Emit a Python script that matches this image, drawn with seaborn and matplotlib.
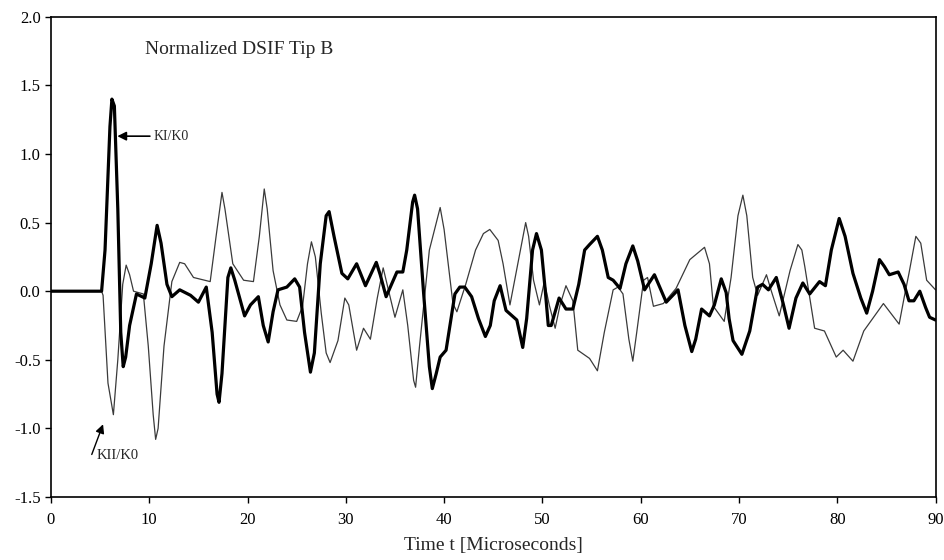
import matplotlib
matplotlib.use("Agg")
import matplotlib.pyplot as plt
import seaborn as sns
import pandas as pd

# KI/K0 (thick line)
ki_t = [0, 5.15, 5.5, 6.0, 6.2, 6.45, 6.8, 7.1, 7.35, 7.6, 8.0, 8.7, 9.55, 10.2, 10.8, 11.2, 11.8, 12.3,
        13.1, 14.2, 15.0, 15.8, 16.4, 16.9, 17.1, 17.4, 18.0, 18.3, 18.7, 19.7, 20.3, 21.1, 21.6, 22.1,
        22.6, 23.1, 24.0, 24.8, 25.3, 25.8, 26.4, 26.8, 27.4, 28.0, 28.3, 28.8, 29.6, 30.2, 31.1, 32.0,
        33.1, 33.5, 34.1, 35.2, 35.8, 36.2, 36.8, 37.0, 37.3, 37.9, 38.5, 38.8, 39.2, 39.6, 40.2, 40.6,
        41.1, 41.6, 42.1, 42.8, 43.5, 44.2, 44.7, 45.1, 45.7, 46.3, 47.4, 48.0, 48.4, 49.0, 49.4, 49.9,
        50.3, 50.6, 50.9, 51.7, 52.4, 53.1, 53.7, 54.3, 54.8, 55.6, 56.1, 56.7, 57.2, 57.9, 58.5, 59.2,
        59.7, 60.4, 61.4, 62.6, 63.8, 64.5, 65.2, 65.6, 66.2, 67.0, 67.5, 68.2, 68.7, 69.0, 69.4, 70.3,
        71.1, 71.9, 72.4, 73.0, 73.8, 74.5, 75.1, 75.8, 76.5, 77.2, 78.2, 78.8, 79.4, 80.2, 80.8, 81.6,
        82.4, 83.0, 83.6, 84.3, 84.8, 85.3, 86.2, 86.8, 87.3, 87.8, 88.4, 89.0, 89.4, 90.0]
ki_v = [0, 0, 0.3, 1.2, 1.40, 1.35, 0.6, -0.3, -0.55, -0.48, -0.25, -0.02, -0.05, 0.2, 0.48, 0.35, 0.05, -0.04,
        0.01, -0.03, -0.08, 0.03, -0.3, -0.75, -0.81, -0.6, 0.1, 0.17, 0.08, -0.18, -0.1, -0.04, -0.25, -0.37,
        -0.15, 0.01, 0.03, 0.09, 0.03, -0.3, -0.59, -0.45, 0.2, 0.55, 0.58, 0.40, 0.13, 0.09, 0.20, 0.04,
        0.21, 0.12, -0.04, 0.14, 0.14, 0.30, 0.65, 0.70, 0.6, 0.0, -0.55, -0.71, -0.6, -0.48, -0.43, -0.25,
        -0.02, 0.03, 0.03, -0.04, -0.2, -0.33, -0.25, -0.07, 0.04, -0.14, -0.21, -0.41, -0.2, 0.3, 0.42, 0.30,
        0.0, -0.25, -0.25, -0.05, -0.13, -0.13, 0.05, 0.30, 0.34, 0.40, 0.3, 0.10, 0.08, 0.02, 0.2, 0.33,
        0.22, 0.01, 0.12, -0.08, 0.01, -0.25, -0.44, -0.35, -0.13, -0.18, -0.10, 0.09, -0.01, -0.2, -0.36, -0.46,
        -0.29, 0.03, 0.05, 0.01, 0.10, -0.09, -0.27, -0.05, 0.06, -0.02, 0.07, 0.04, 0.3, 0.53, 0.4, 0.13,
        -0.05, -0.16, 0.0, 0.23, 0.18, 0.12, 0.14, 0.05, -0.07, -0.07, 0.00, -0.12, -0.19, -0.21]

# KII/K0 (thin line)
kii_t = [0, 5.15, 5.3, 5.8, 6.35, 6.8, 7.3, 7.65, 8.0, 8.4, 9.4, 9.9, 10.4, 10.65, 10.9, 11.5, 12.3, 13.1,
         13.6, 14.5, 16.2, 16.8, 17.4, 17.7, 18.5, 19.6, 20.6, 21.2, 21.7, 22.0, 22.6, 23.3, 24.0, 25.0,
         25.6, 26.1, 26.5, 26.9, 27.5, 28.0, 28.4, 29.2, 29.9, 30.3, 31.1, 31.8, 32.5, 33.2, 33.8, 34.1,
         35.0, 35.8, 36.3, 36.9, 37.1, 37.5, 38.5, 39.6, 40.0, 40.9, 41.3, 42.2, 43.2, 44.0, 44.65, 45.5,
         46.0, 46.7, 47.5, 48.3, 48.6, 49.1, 49.7, 50.2, 50.7, 51.3, 51.8, 52.4, 53.1, 53.6, 54.8, 55.6,
         56.3, 57.2, 57.7, 58.2, 58.8, 59.2, 59.6, 60.3, 60.7, 61.3, 62.3, 63.6, 65.0, 66.5, 67.0, 67.4,
         68.5, 69.2, 69.9, 70.4, 70.8, 71.4, 71.9, 72.8, 73.3, 74.1, 75.2, 76.0, 76.4, 76.7, 77.7, 78.7,
         79.9, 80.6, 81.6, 82.7, 84.7, 86.3, 86.8, 87.3, 88.0, 88.5, 89.1, 90.0]
kii_v = [0, 0, -0.03, -0.67, -0.90, -0.5, 0.05, 0.19, 0.12, 0.0, -0.02, -0.4, -0.9, -1.08, -1.0, -0.4, 0.07, 0.21,
         0.2, 0.10, 0.07, 0.4, 0.72, 0.6, 0.20, 0.08, 0.07, 0.4, 0.745, 0.6, 0.15, -0.10, -0.21, -0.22,
         -0.11, 0.2, 0.36, 0.25, -0.16, -0.45, -0.52, -0.36, -0.05, -0.1, -0.43, -0.27, -0.35, -0.05, 0.17, 0.08,
         -0.19, 0.01, -0.25, -0.65, -0.70, -0.4, 0.3, 0.61, 0.45, -0.09, -0.15, 0.05, 0.30, 0.42, 0.45, 0.37,
         0.2, -0.10, 0.2, 0.50, 0.4, 0.08, -0.10, 0.07, -0.1, -0.27, -0.1, 0.04, -0.07, -0.43, -0.49, -0.58,
         -0.3, 0.01, 0.03, -0.02, -0.35, -0.51, -0.3, 0.08, 0.10, -0.11, -0.09, 0.02, 0.23, 0.32, 0.2, -0.11,
         -0.22, 0.1, 0.55, 0.70, 0.55, 0.1, -0.03, 0.12, 0.0, -0.18, 0.15, 0.34, 0.3, 0.18, -0.27, -0.29,
         -0.48, -0.43, -0.51, -0.29, -0.09, -0.24, -0.05, 0.13, 0.40, 0.35, 0.08, 0.01]

x_ticks = [0, 10, 20, 30, 40, 50, 60, 70, 80, 90]
y_ticks = [-1.5, -1.0, -0.5, 0.0, 0.5, 1.0, 1.5, 2.0]

sns.set_style("ticks")
plt.rcParams['font.family'] = ['Liberation Serif', 'DejaVu Serif']

fig = plt.figure(figsize=(9.44, 5.6), dpi=100)
ax = fig.add_axes([0.054, 0.1125, 0.937, 0.8575])

df_ki = pd.DataFrame({"t": ki_t, "v": ki_v})
df_kii = pd.DataFrame({"t": kii_t, "v": kii_v})
sns.lineplot(data=df_kii, x="t", y="v", ax=ax, color="#3a3a3a", linewidth=0.9,
             sort=False, estimator=None, solid_joinstyle="round")
sns.lineplot(data=df_ki, x="t", y="v", ax=ax, color="black", linewidth=2.3,
             sort=False, estimator=None, solid_joinstyle="round", solid_capstyle="round")

ax.set_xlim(0, 90)
ax.set_ylim(-1.5, 2.0)
ax.set_xticks(x_ticks)
ax.set_xticklabels([str(v) for v in x_ticks])
ax.set_yticks(y_ticks)
ax.set_yticklabels([f"{v:.1f}" for v in y_ticks])
ax.tick_params(direction="out", length=4, width=1, labelsize=12, colors="black")
ax.tick_params(axis="x", pad=7)
for s in ax.spines.values():
    s.set_visible(True)
    s.set_linewidth(1.2)
    s.set_color("black")
ax.set_xlabel("Time t [Microseconds]", fontsize=14, labelpad=6)
ax.set_ylabel("")

ax.text(9.6, 1.76, "Normalized DSIF Tip B", fontsize=14, va="center", ha="left")

ax.annotate("KI/K0", xy=(6.75, 1.13), xytext=(10.4, 1.13), fontsize=10,
            va="center", ha="left",
            arrowprops=dict(arrowstyle="-|>", color="black", lw=1.2,
                            mutation_scale=13, shrinkA=0, shrinkB=0))
ax.annotate("", xy=(5.3, -0.97), xytext=(4.15, -1.19),
            arrowprops=dict(arrowstyle="-|>", color="black", lw=1.0,
                            mutation_scale=13, shrinkA=0, shrinkB=0))
ax.text(4.65, -1.2, "KII/K0", fontsize=10.5, va="center", ha="left")

fig.savefig("out.png", dpi=100)
